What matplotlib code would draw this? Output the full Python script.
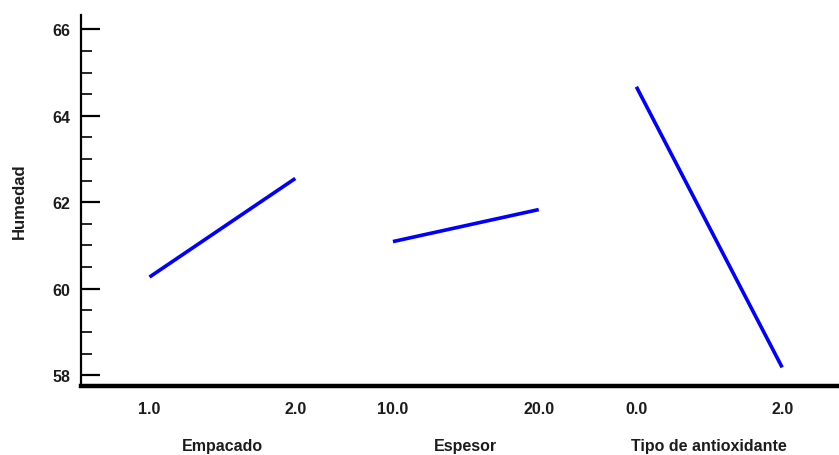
import matplotlib
matplotlib.use("Agg")
import matplotlib.pyplot as plt
from matplotlib.ticker import MultipleLocator

# main effects for Humedad
factors = ["Empacado", "Espesor", "Tipo de antioxidante"]
level_labels = [["1.0", "2.0"], ["10.0", "20.0"], ["0.0", "2.0"]]
low_means = [60.27, 61.09, 64.67]
high_means = [62.55, 61.83, 58.18]

plt.rcParams['font.family'] = ['Liberation Sans Narrow', 'Liberation Sans', 'DejaVu Sans']

fig = plt.figure(figsize=(8.39, 4.56), dpi=100)
ax = fig.add_axes([81 / 839, 1 - 387 / 456, 1 - 81 / 839, (387 - 16) / 456])

seg_w = 1.0
step = 1.67
ticks, tlabels = [], []
for i, name in enumerate(factors):
    x0 = i * step
    x1 = x0 + seg_w
    ax.plot([x0, x1], [low_means[i], high_means[i]], color='#0000ff', lw=2.6,
            solid_capstyle='butt')
    ticks += [x0, x1]
    tlabels += level_labels[i]
    ax.text((x0 + x1) / 2, -0.16, name, transform=ax.get_xaxis_transform(),
            ha='center', va='center', fontsize=11.5, fontweight='bold', color='#1c1c1c')

ax.set_xlim(-0.47, 2 * step + seg_w + 0.39)
ax.set_ylim(57.75, 66.33)

ax.set_xticks(ticks)
ax.set_xticklabels(tlabels, fontsize=11.5, fontweight='bold', color='#1c1c1c')
ax.tick_params(axis='x', length=0, pad=11)

ax.yaxis.set_major_locator(MultipleLocator(2))
ax.yaxis.set_minor_locator(MultipleLocator(0.5))
ax.tick_params(axis='y', which='major', direction='in', length=14, width=1.6,
               labelsize=11.5, pad=8, labelcolor='#1c1c1c')
ax.tick_params(axis='y', which='minor', direction='in', length=8, width=1.2)
for lab in ax.get_yticklabels():
    lab.set_fontweight('bold')

ax.spines['top'].set_visible(False)
ax.spines['right'].set_visible(False)
ax.spines['left'].set_linewidth(1.6)
ax.spines['bottom'].set_linewidth(3.2)

ax.set_ylabel("Humedad", fontsize=12, fontweight='bold', color='#1c1c1c')
ax.yaxis.set_label_coords(-0.071, 0.5)

fig.savefig("out.png", dpi=100)
